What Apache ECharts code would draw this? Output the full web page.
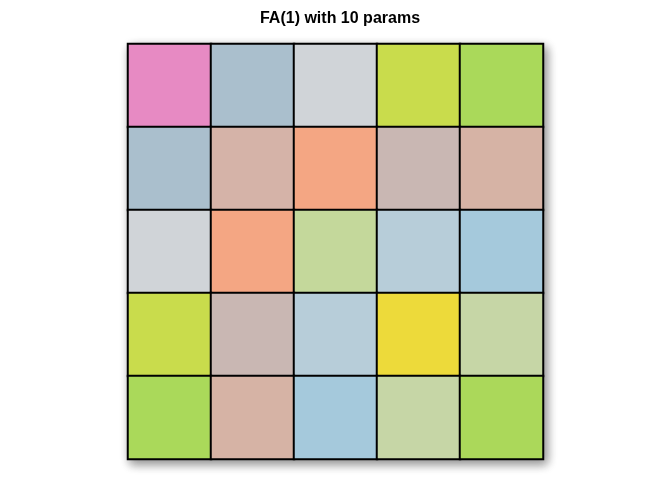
<!DOCTYPE html>
<html>
<head>
<meta charset="utf-8">
<script src="https://cdn.jsdelivr.net/npm/echarts@6/dist/echarts.min.js"></script>
<style>html,body{margin:0;padding:0;background:#fff;}#c{width:672px;height:480px;}</style>
</head>
<body>
<div id="c"></div>
<script>
// Matrix cells (row, col) -> level id; symmetric FA(1) structure with 10 params
var rows = ['1', '2', '3', '4', '5'];
var cols = ['1', '2', '3', '4', '5'];
var levelMatrix = [
  [0, 1, 2, 3, 4],
  [1, 5, 6, 7, 8],
  [2, 6, 9, 10, 11],
  [3, 7, 10, 12, 13],
  [4, 8, 11, 13, 14]
];
var levelColors = ['#E78AC3', '#AABFCD', '#D0D4D8', '#C9DC4C', '#AAD95A',
  '#D5B3A8', '#F4A683', '#C9B7B3', '#D6B3A5', '#C4D89B',
  '#B7CDD9', '#A5C9DC', '#EDDA3A', '#C6D6A6', '#ABD85A'];
var titleText = 'FA(1) with 10 params';

var data = [];
for (var r = 0; r < rows.length; r++) {
  for (var c = 0; c < cols.length; c++) {
    data.push([c, r, levelMatrix[r][c]]);
  }
}
var pieces = levelColors.map(function (col, i) { return { value: i, color: col }; });

var chart = echarts.init(document.getElementById('c'));
chart.setOption({
  animation: false,
  title: {
    text: titleText, left: 335, top: 6, textAlign: 'center',
    textStyle: { fontFamily: 'Liberation Sans, Arial, sans-serif', fontSize: 16, fontWeight: 'bold', color: '#000' }
  },
  grid: {
    left: 128, top: 44, width: 415, height: 415, show: true,
    backgroundColor: '#fff', borderColor: '#000', borderWidth: 2,
    shadowBlur: 10, shadowColor: 'rgba(0,0,0,0.45)', shadowOffsetX: 3, shadowOffsetY: 4
  },
  xAxis: { type: 'category', data: cols, show: false },
  yAxis: { type: 'category', data: rows, show: false, inverse: true },
  visualMap: { type: 'piecewise', show: false, dimension: 2, pieces: pieces },
  series: [{
    type: 'heatmap',
    data: data,
    itemStyle: { borderColor: '#000', borderWidth: 2 },
    emphasis: { disabled: true }
  }]
});
</script>
</body>
</html>
